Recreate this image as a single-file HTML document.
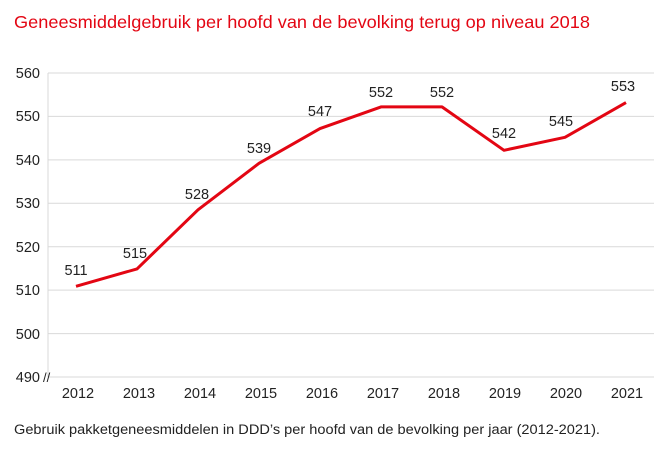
<!DOCTYPE html>
<html><head><meta charset="utf-8"><style>
body{margin:0;background:#fff;}
svg{display:block;font-family:"Liberation Sans",sans-serif;}
</style></head><body>
<svg width="667" height="449" viewBox="0 0 667 449" xmlns="http://www.w3.org/2000/svg">
<text x="14" y="28" font-size="17.5" fill="#e30613" textLength="576" lengthAdjust="spacingAndGlyphs">Geneesmiddelgebruik per hoofd van de bevolking terug op niveau 2018</text>
<g stroke="#d9d9d9" stroke-width="1">
<line x1="48" y1="73" x2="654" y2="73"/>
<line x1="48" y1="116.4" x2="654" y2="116.4"/>
<line x1="48" y1="159.9" x2="654" y2="159.9"/>
<line x1="48" y1="203.3" x2="654" y2="203.3"/>
<line x1="48" y1="246.7" x2="654" y2="246.7"/>
<line x1="48" y1="290.1" x2="654" y2="290.1"/>
<line x1="48" y1="333.6" x2="654" y2="333.6"/>
<line x1="48" y1="377" x2="654" y2="377"/>
<line x1="48" y1="73" x2="48" y2="377"/>
</g>
<g font-size="14.5" fill="#222" text-anchor="end">
<text x="40" y="78">560</text><text x="40" y="121">550</text><text x="40" y="165">540</text>
<text x="40" y="208">530</text><text x="40" y="252">520</text><text x="40" y="295">510</text>
<text x="40" y="339">500</text><text x="40" y="382">490</text>
</g>
<text x="43" y="382" font-size="13" fill="#222">//</text>
<g font-size="14.5" fill="#222" text-anchor="middle">
<text x="78" y="398">2012</text><text x="139" y="398">2013</text><text x="200" y="398">2014</text>
<text x="261" y="398">2015</text><text x="322" y="398">2016</text><text x="383" y="398">2017</text>
<text x="444" y="398">2018</text><text x="505" y="398">2019</text><text x="566" y="398">2020</text>
<text x="627" y="398">2021</text>
</g>
<polyline fill="none" stroke="#e30613" stroke-width="3" stroke-linejoin="round"
points="76,286.3 137,268.9 198,209.8 259,163.3 320,128.6 381,106.9 442,106.9 504,150.3 565,137.3 626,102.6"/>
<g font-size="14.5" fill="#222" text-anchor="middle">
<text x="76" y="275">511</text><text x="135" y="258">515</text><text x="197" y="199">528</text>
<text x="259" y="153">539</text><text x="320" y="116">547</text><text x="381" y="97">552</text>
<text x="442" y="97">552</text><text x="504" y="138">542</text><text x="561" y="126">545</text>
<text x="623" y="91">553</text>
</g>
<text x="14" y="434" font-size="13.5" fill="#222" textLength="586" lengthAdjust="spacingAndGlyphs">Gebruik pakketgeneesmiddelen in DDD’s per hoofd van de bevolking per jaar (2012-2021).</text>
</svg>
</body></html>
